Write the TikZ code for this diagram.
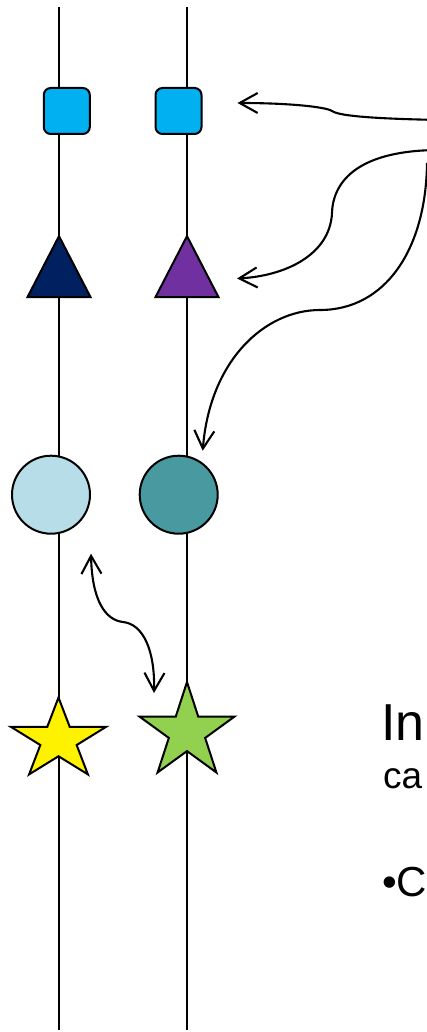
\documentclass[tikz,border=0pt]{standalone}
\usepackage{fontspec}
\setmainfont{Liberation Sans}
\usetikzlibrary{shapes.geometric,arrows.meta}

\definecolor{boxcyan}{HTML}{00B0F0}
\definecolor{navytri}{HTML}{002060}
\definecolor{purpletri}{HTML}{7030A0}
\definecolor{paleteal}{HTML}{B7DEE8}
\definecolor{deepteal}{RGB}{72,153,160}
\definecolor{starlime}{HTML}{92D050}

\tikzset{
  obj/.style={draw=black, line width=2pt, inner sep=0pt},
  sqbox/.style={obj, rectangle, rounded corners=7pt, minimum size=46pt, fill=boxcyan},
  tri/.style={obj, isosceles triangle, isosceles triangle stretches, shape border rotate=90,
    minimum width=63pt, minimum height=61pt, anchor=apex},
  ball/.style={obj, circle, minimum size=78pt},
  starry/.style={obj, star, star points=5, star point ratio=2.618, minimum size=100pt},
  barb/.tip={Straight Barb[length=18pt,width=20pt]},
  link/.style={line width=2.1pt, -barb},
  twoway/.style={line width=2.1pt, barb-barb},
  timeline/.style={line width=2.2pt},
}

\begin{document}
\begin{tikzpicture}[x=1pt,y=-1pt]
\useasboundingbox (0,0) rectangle (427,1032);
\clip (0,0) rectangle (427,1032);

% Timelines
\coordinate (topA) at (59,7);
\coordinate (botA) at (59,1030);
\coordinate (topB) at (187,7);
\coordinate (botB) at (187,1030);
\draw[timeline] (topA) -- (botA);
\draw[timeline] (topB) -- (botB);

% Squares
\node[sqbox] (sq1) at (66.8,111) {};
\node[sqbox] (sq2) at (178.5,111) {};

% Triangles
\node[tri, fill=navytri] (tri1) at (59,233.5) {};
\node[tri, fill=purpletri] (tri2) at (187,233.5) {};

% Circles
\node[ball, fill=paleteal] (ball1) at (51,494.7) {};
\node[ball, fill=deepteal] (ball2) at (178.7,494.7) {};

% Stars
\node[starry, fill=yellow, yscale=0.85] (star1) at (58.5,740) {};
\node[starry, fill=starlime] (star2) at (187,732) {};

% Arrows
\coordinate (src1) at (440,120);
\coordinate (src2) at (440,150);
\coordinate (src3) at (427,163);
\draw[link] (src1) .. controls (390,119) and (340,117) .. (332,111)
  .. controls (326,107) and (290,103) .. ([xshift=35pt,yshift=8pt]sq2.east);
\draw[link] (src2) .. controls (360,150) and (333,180) .. (332,213)
  .. controls (330,255) and (285,276) .. ([xshift=50pt,yshift=-45pt]tri2.apex);
\draw[link] (src3) .. controls (426,250) and (385,310) .. (320,310)
  .. controls (265,310) and (210,360) .. ([xshift=24pt,yshift=4pt]ball2.north);
\draw[twoway] ([xshift=40pt,yshift=-19pt]ball1.south) .. controls (92,600) and (105,620) .. (123,622)
  .. controls (143,624) and (155,650) .. ([xshift=-33pt,yshift=39pt]star2.center);

% Text
\node[anchor=base west, inner sep=0pt, font=\fontsize{52}{60}\selectfont] (head) at (381,740) {In};
\node[anchor=base west, inner sep=0pt, font=\fontsize{37}{44}\selectfont] (line1) at (383,788.5) {ca};
\node[anchor=base west, inner sep=0pt, font=\fontsize{42}{48}\selectfont] (line2) at (382,896) {•C};
\end{tikzpicture}
\end{document}
